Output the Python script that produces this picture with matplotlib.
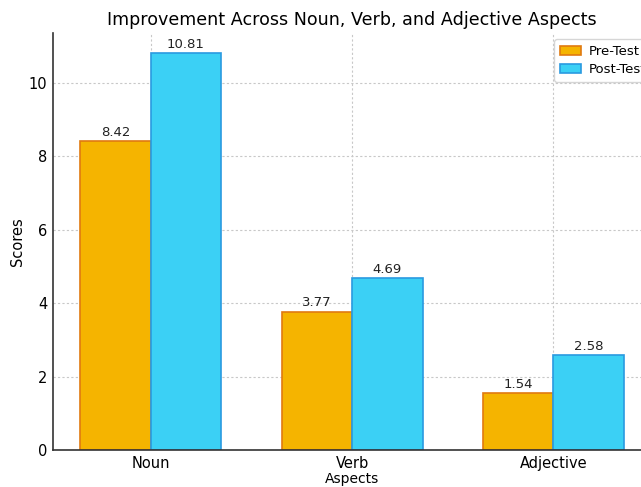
import matplotlib.pyplot as plt
import numpy as np

aspects = ['Noun', 'Verb', 'Adjective']
pre_test = [8.42, 3.77, 1.54]
post_test = [10.81, 4.69, 2.58]

x = np.arange(len(aspects))
width = 0.35

fig = plt.figure(figsize=(6.41, 4.87), dpi=100)
ax = fig.add_axes([0.0827, 0.076, 0.933, 0.856])

b1 = ax.bar(x - width / 2, pre_test, width, label='Pre-Test',
            color='#F5B400', edgecolor='#E07A10', linewidth=1.2)
b2 = ax.bar(x + width / 2, post_test, width, label='Post-Test',
            color='#3BD0F5', edgecolor='#2A9AE0', linewidth=1.2)

for bars in (b1, b2):
    for b in bars:
        h = b.get_height()
        ax.annotate(f'{h:.2f}', (b.get_x() + b.get_width() / 2, h),
                    xytext=(0, 1.5), textcoords='offset points',
                    ha='center', va='bottom', fontsize=9.5, color='#222222')

ax.set_title('Improvement Across Noun, Verb, and Adjective Aspects', fontsize=12.6, pad=6)
ax.set_xlabel('Aspects', fontsize=10, labelpad=1)
ax.set_ylabel('Scores', fontsize=10.5, labelpad=3)
ax.set_xticks(x)
ax.set_xticklabels(aspects, fontsize=10.5)
ax.tick_params(axis='both', length=0, pad=4, labelsize=10.5)
ax.grid(True, linestyle=(0, (2, 2)), color='#c8c8c8', linewidth=0.8)
ax.set_axisbelow(True)
for s in ('top', 'right'):
    ax.spines[s].set_visible(False)
for s in ('left', 'bottom'):
    ax.spines[s].set_color('#333333')
    ax.spines[s].set_linewidth(1.2)

ax.legend(loc='upper left', bbox_to_anchor=(0.838, 0.985), borderaxespad=0,
          fontsize=9.5, handlelength=1.6, handletextpad=0.6, borderpad=0.45,
          labelspacing=0.35)

fig.savefig('out.png', dpi=100)
